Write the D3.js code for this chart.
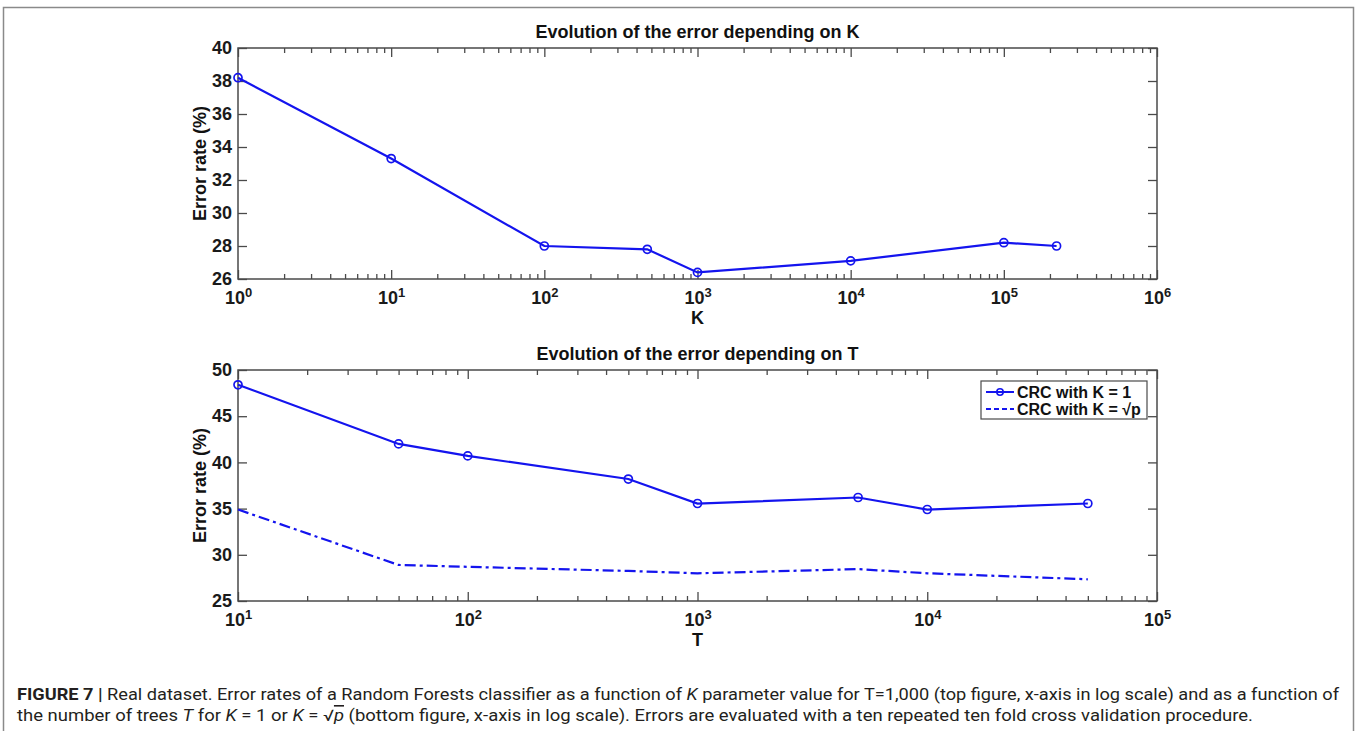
<!DOCTYPE html>
<html>
<head>
<meta charset="utf-8">
<script src="https://cdn.jsdelivr.net/npm/d3@7"></script>
<style>
  body { margin: 0; background: #fff; }
  svg text { font-family: "Liberation Sans", Arial, sans-serif; }
</style>
</head>
<body>
<div id="fig"></div>
<script>
// top panel: error vs K (T = 1000)
var kValues = [1, 10, 100, 470, 1000, 10000, 100000, 221000];
var kError = [38.2, 33.3, 28.0, 27.8, 26.4, 27.1, 28.2, 28.0];
var kTicksY = [26, 28, 30, 32, 34, 36, 38, 40];
var kDecades = [0, 1, 2, 3, 4, 5, 6];

// bottom panel: error vs T
var tValues = [10, 50, 100, 500, 1000, 5000, 10000, 50000];
var tErrorK1 = [48.4, 42.0, 40.7, 38.2, 35.55, 36.2, 34.9, 35.55];
var tErrorSqrtP = [34.9, 28.9, 28.7, 28.25, 28.0, 28.45, 28.0, 27.35];
var tTicksY = [25, 30, 35, 40, 45, 50];
var tDecades = [1, 2, 3, 4, 5];

var legendLabels = ["CRC with K = 1", "CRC with K = \u221Ap"];

var W = 1357, H = 731;
var blue = "#1414ee";
var axisColor = "#4a4a4a";

var svg = d3.select("#fig").append("svg")
  .attr("width", W)
  .attr("height", H);

// outer frame of the figure
svg.append("rect")
  .attr("x", 3.5).attr("y", 7.5)
  .attr("width", 1350).attr("height", 800)
  .attr("fill", "none")
  .attr("stroke", "#8a8a8a")
  .attr("stroke-width", 1.5);

function minorTicks(decades) {
  var out = [];
  for (var i = 0; i < decades.length - 1; i++) {
    for (var m = 2; m <= 9; m++) out.push(m * Math.pow(10, decades[i]));
  }
  return out;
}

function drawPanel(cfg) {
  var left = 238, right = 1157;
  var w = right - left, h = cfg.bottom - cfg.top;
  var g = svg.append("g").attr("transform", "translate(" + left + "," + cfg.top + ")");

  var majors = cfg.decades.map(function(d) { return Math.pow(10, d); });
  var x = d3.scaleLog()
    .domain([majors[0], majors[majors.length - 1]])
    .range([0, w]);
  var y = d3.scaleLinear()
    .domain([cfg.yTicks[0], cfg.yTicks[cfg.yTicks.length - 1]])
    .range([h, 0]);

  // bottom axis with labels (10^n)
  var xb = g.append("g").attr("transform", "translate(0," + h + ")")
    .call(d3.axisBottom(x).tickValues(majors).tickSizeInner(-9).tickSizeOuter(0).tickPadding(12).tickFormat(""));
  xb.selectAll(".tick text").each(function(d) {
    var t = d3.select(this);
    t.append("tspan").text("10");
    t.append("tspan").attr("dy", "-0.55em").attr("font-size", "13px").text(Math.round(Math.log10(d)));
  });
  g.append("g").attr("transform", "translate(0," + h + ")")
    .call(d3.axisBottom(x).tickValues(minorTicks(cfg.decades)).tickSizeInner(-5).tickSizeOuter(0).tickFormat(""));
  // top mirror ticks
  g.append("g")
    .call(d3.axisTop(x).tickValues(majors).tickSizeInner(-9).tickSizeOuter(0).tickFormat(""));
  g.append("g")
    .call(d3.axisTop(x).tickValues(minorTicks(cfg.decades)).tickSizeInner(-5).tickSizeOuter(0).tickFormat(""));

  // left and right y axes
  g.append("g")
    .call(d3.axisLeft(y).tickValues(cfg.yTicks).tickSizeInner(-9).tickSizeOuter(0).tickPadding(6));
  g.append("g").attr("transform", "translate(" + w + ",0)")
    .call(d3.axisRight(y).tickValues(cfg.yTicks).tickSizeInner(-9).tickSizeOuter(0).tickFormat(""));

  g.selectAll(".domain").remove();
  g.selectAll(".tick line").attr("stroke", axisColor).attr("stroke-width", 1.3);
  g.selectAll(".tick text")
    .attr("fill", "#1a1a1a")
    .attr("font-size", "18px")
    .attr("font-weight", "bold");

  // axes box
  g.append("rect")
    .attr("width", w).attr("height", h)
    .attr("fill", "none")
    .attr("stroke", axisColor)
    .attr("stroke-width", 1.5);

  // titles and labels
  g.append("text")
    .attr("x", w / 2).attr("y", -10)
    .attr("text-anchor", "middle")
    .attr("font-size", "18px").attr("font-weight", "bold").attr("fill", "#111")
    .text(cfg.title);
  g.append("text")
    .attr("x", w / 2).attr("y", h + 45)
    .attr("text-anchor", "middle")
    .attr("font-size", "18px").attr("font-weight", "bold").attr("fill", "#111")
    .text(cfg.xLabel);
  g.append("text")
    .attr("transform", "translate(-32," + (h / 2) + ") rotate(-90)")
    .attr("text-anchor", "middle")
    .attr("font-size", "18px").attr("font-weight", "bold").attr("fill", "#111")
    .text("Error rate (%)");

  // series
  cfg.series.forEach(function(s) {
    var pts = cfg.xs.map(function(v, i) { return [v, s.values[i]]; });
    var line = d3.line().x(function(d) { return x(d[0]); }).y(function(d) { return y(d[1]); });
    g.append("path")
      .datum(pts)
      .attr("d", line)
      .attr("fill", "none")
      .attr("stroke", blue)
      .attr("stroke-width", 2.2)
      .attr("stroke-dasharray", s.dash || null);
    if (s.markers) {
      g.selectAll(null).data(pts).enter().append("circle")
        .attr("cx", function(d) { return x(d[0]); })
        .attr("cy", function(d) { return y(d[1]); })
        .attr("r", 4)
        .attr("fill", "none")
        .attr("stroke", blue)
        .attr("stroke-width", 1.7);
    }
  });

  // legend
  if (cfg.legend) {
    var lw = 166, lh = 38;
    var lg = g.append("g").attr("transform", "translate(" + (w - 10 - lw) + ",11)");
    lg.append("rect")
      .attr("width", lw).attr("height", lh)
      .attr("fill", "#fff")
      .attr("stroke", axisColor).attr("stroke-width", 1.2);
    cfg.series.forEach(function(s, i) {
      var yy = 11 + i * 17;
      lg.append("line")
        .attr("x1", 5).attr("x2", 33).attr("y1", yy).attr("y2", yy)
        .attr("stroke", blue).attr("stroke-width", 2)
        .attr("stroke-dasharray", s.markers ? null : "5,3");
      if (s.markers) {
        lg.append("circle").attr("cx", 19).attr("cy", yy).attr("r", 3.2)
          .attr("fill", "none").attr("stroke", blue).attr("stroke-width", 1.6);
      }
      lg.append("text")
        .attr("x", 36).attr("y", yy + 6)
        .attr("font-size", "16px").attr("font-weight", "bold").attr("fill", "#111")
        .text(cfg.legend[i]);
    });
  }
}

drawPanel({
  top: 48, bottom: 279,
  decades: kDecades, yTicks: kTicksY,
  title: "Evolution of the error depending on K", xLabel: "K",
  xs: kValues,
  series: [{ values: kError, markers: true }]
});

drawPanel({
  top: 370, bottom: 601,
  decades: tDecades, yTicks: tTicksY,
  title: "Evolution of the error depending on T", xLabel: "T",
  xs: tValues,
  series: [
    { values: tErrorK1, markers: true },
    { values: tErrorSqrtP, markers: false, dash: "11,4,3,4" }
  ],
  legend: legendLabels
});

// caption
var cap = svg.append("g").attr("font-size", "16px").attr("fill", "#231f20");
var l1 = cap.append("text").attr("x", 17).attr("y", 700)
  .attr("textLength", 1322).attr("lengthAdjust", "spacingAndGlyphs")
  .style("font-family", "Roboto, 'Liberation Sans', sans-serif");
l1.append("tspan").attr("font-weight", "bold").text("FIGURE 7 | ");
l1.append("tspan").text("Real dataset. Error rates of a Random Forests classifier as a function of ");
l1.append("tspan").attr("font-style", "italic").text("K");
l1.append("tspan").text(" parameter value for T=1,000 (top figure, x-axis in log scale) and as a function of");

var l2 = cap.append("text").attr("x", 17).attr("y", 721)
  .attr("textLength", 1236).attr("lengthAdjust", "spacingAndGlyphs")
  .style("font-family", "Roboto, 'Liberation Sans', sans-serif");
l2.append("tspan").text("the number of trees ");
l2.append("tspan").attr("font-style", "italic").text("T");
l2.append("tspan").text(" for ");
l2.append("tspan").attr("font-style", "italic").text("K");
l2.append("tspan").text(" = 1 or ");
l2.append("tspan").attr("font-style", "italic").text("K");
l2.append("tspan").text(" = \u221A");
l2.append("tspan").attr("font-style", "italic").attr("text-decoration", "overline").text("p");
l2.append("tspan").text(" (bottom figure, x-axis in log scale). Errors are evaluated with a ten repeated ten fold cross validation procedure.");
</script>
</body>
</html>
